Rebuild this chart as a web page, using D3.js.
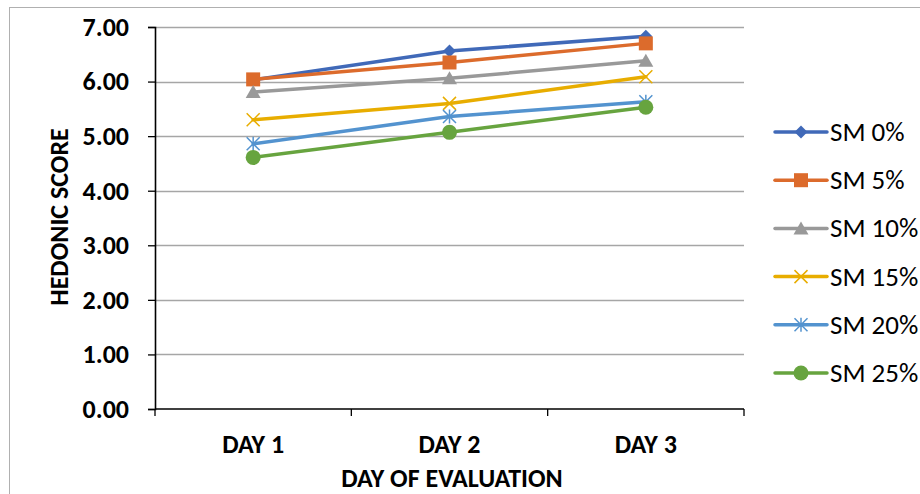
<!DOCTYPE html>
<html>
<head>
<meta charset="utf-8">
<script src="https://cdn.jsdelivr.net/npm/d3@7"></script>
<style>
  html, body { margin: 0; padding: 0; background: #fff; }
  svg { display: block; font-family: Carlito, Lato, "Open Sans", sans-serif; }
</style>
</head>
<body>
<svg id="chart" width="920" height="494"></svg>
<script>
// Sensory evaluation: hedonic score by day and skim-milk level
const days = ["DAY 1", "DAY 2", "DAY 3"];
const seriesNames = ["SM 0%", "SM 5%", "SM 10%", "SM 15%", "SM 20%", "SM 25%"];
const sm0  = [6.03, 6.56, 6.83];
const sm5  = [6.04, 6.35, 6.70];
const sm10 = [5.81, 6.06, 6.38];
const sm15 = [5.30, 5.60, 6.09];
const sm20 = [4.86, 5.36, 5.63];
const sm25 = [4.61, 5.07, 5.53];
const yTicks = [0, 1, 2, 3, 4, 5, 6, 7];
const colors = ["#4069B8", "#DC6B2C", "#999999", "#E8AD00", "#5393CF", "#67A43F"];
const markers = ["diamond", "square", "triangle", "cross", "star", "circle"];

const seriesValues = [sm0, sm5, sm10, sm15, sm20, sm25];

const svg = d3.select("#chart");
const labelSize = 26;

// chart frame
svg.append("rect")
  .attr("x", 9.5).attr("y", 7.5)
  .attr("width", 920).attr("height", 500)
  .attr("fill", "#fff").attr("stroke", "#b0b0b0").attr("stroke-width", 1);

const plot = { left: 155, right: 744, top: 27, bottom: 409 };

const x = d3.scaleBand().domain(days).range([plot.left, plot.right]).padding(0);
const y = d3.scaleLinear().domain([0, 7]).range([plot.bottom, plot.top]);

// horizontal gridlines
svg.append("g")
  .selectAll("line")
  .data(yTicks.filter(d => d > 0))
  .join("line")
  .attr("x1", plot.left).attr("x2", plot.right)
  .attr("y1", d => Math.round(y(d)) + 0.5).attr("y2", d => Math.round(y(d)) + 0.5)
  .attr("stroke", "#a6a6a6").attr("stroke-width", 1.3);

// y axis
const yAxis = svg.append("g")
  .attr("transform", `translate(${plot.left},0)`)
  .call(d3.axisLeft(y).tickValues(yTicks).tickFormat(d3.format(".2f")).tickSize(7).tickPadding(19));
yAxis.select(".domain").attr("stroke", "#000").attr("stroke-width", 1.6);
yAxis.selectAll(".tick line").attr("stroke", "#000").attr("stroke-width", 1.3);
yAxis.selectAll("text")
  .attr("font-size", labelSize).attr("font-weight", "bold").attr("fill", "#000")
  .attr("font-family", "Carlito, Lato, 'Open Sans', sans-serif");

// x axis with tick marks at category boundaries
const xAxisG = svg.append("g").attr("transform", `translate(0,${plot.bottom})`);
xAxisG.append("line")
  .attr("x1", plot.left).attr("x2", plot.right)
  .attr("stroke", "#000").attr("stroke-width", 1.6);
const boundaries = days.map(d => x(d)).concat([x(days[days.length - 1]) + x.bandwidth()]);
xAxisG.selectAll("line.tk")
  .data(boundaries)
  .join("line").attr("class", "tk")
  .attr("x1", d => d).attr("x2", d => d)
  .attr("y1", 0).attr("y2", 7)
  .attr("stroke", "#000").attr("stroke-width", 1.3);
xAxisG.selectAll("text")
  .data(days)
  .join("text")
  .attr("x", d => x(d) + x.bandwidth() / 2)
  .attr("y", 44)
  .attr("text-anchor", "middle")
  .attr("font-size", labelSize).attr("font-weight", "bold").attr("fill", "#000")
  .text(d => d);

// axis titles
svg.append("text")
  .attr("x", 452).attr("y", 487)
  .attr("text-anchor", "middle")
  .attr("font-size", labelSize).attr("font-weight", "bold")
  .text("DAY OF EVALUATION");
svg.append("text")
  .attr("transform", "translate(68,217) rotate(-90)")
  .attr("text-anchor", "middle")
  .attr("font-size", labelSize).attr("font-weight", "bold")
  .text("HEDONIC SCORE");

// marker drawing
function drawMarker(g, type, color) {
  switch (type) {
    case "diamond":
      g.append("path").attr("d", "M0,-6.5L6.5,0L0,6.5L-6.5,0Z").attr("fill", color);
      break;
    case "square":
      g.append("rect").attr("x", -7).attr("y", -7).attr("width", 14).attr("height", 14).attr("fill", color);
      break;
    case "triangle":
      g.append("path").attr("d", "M0,-7L7.5,6L-7.5,6Z").attr("fill", color);
      break;
    case "cross":
      g.append("path").attr("d", "M-6.5,-6.5L6.5,6.5M-6.5,6.5L6.5,-6.5")
        .attr("stroke", color).attr("stroke-width", 1.5).attr("fill", "none");
      break;
    case "star":
      g.append("path").attr("d", "M-6.5,-6.5L6.5,6.5M-6.5,6.5L6.5,-6.5M0,-7L0,7")
        .attr("stroke", color).attr("stroke-width", 1.5).attr("fill", "none");
      break;
    case "circle":
      g.append("circle").attr("r", 7.5).attr("fill", color);
      break;
  }
}

const line = d3.line()
  .x((d, i) => x(days[i]) + x.bandwidth() / 2)
  .y(d => y(d));

seriesValues.forEach((vals, s) => {
  svg.append("path")
    .datum(vals)
    .attr("d", line)
    .attr("fill", "none")
    .attr("stroke", colors[s])
    .attr("stroke-width", 3.5)
    .attr("stroke-linejoin", "round")
    .attr("stroke-linecap", "round");
  vals.forEach((v, i) => {
    const g = svg.append("g")
      .attr("transform", `translate(${x(days[i]) + x.bandwidth() / 2},${y(v)})`);
    drawMarker(g, markers[s], colors[s]);
  });
});

// legend
const legend = svg.append("g");
seriesNames.forEach((name, s) => {
  const ly = 132 + s * 48.2;
  const g = legend.append("g").attr("transform", `translate(0,${ly})`);
  g.append("line")
    .attr("x1", 775).attr("x2", 827).attr("y1", 0).attr("y2", 0)
    .attr("stroke", colors[s]).attr("stroke-width", 3.5).attr("stroke-linecap", "round");
  const m = g.append("g").attr("transform", "translate(801,0)");
  drawMarker(m, markers[s], colors[s]);
  g.append("text")
    .attr("x", 830).attr("y", 9)
    .attr("font-size", 27).attr("fill", "#000")
    .text(name);
});
</script>
</body>
</html>
